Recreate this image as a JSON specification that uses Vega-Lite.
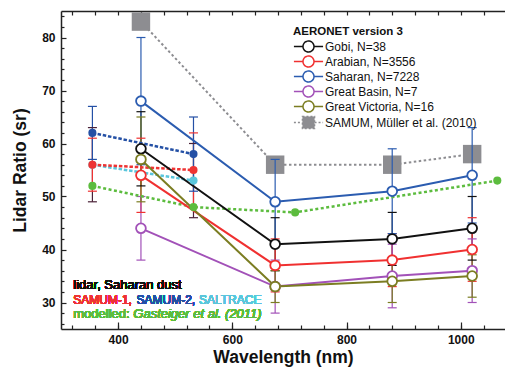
{
  "$schema": "https://vega.github.io/schema/vega-lite/v6.json",
  "width": 444,
  "height": 318,
  "autosize": {"type": "none"},
  "padding": {"left": 61, "top": 11, "right": 0, "bottom": 38},
  "config": {
    "view": {"stroke": null},
    "font": "Liberation Sans",
    "axis": {"grid": false, "tickColor": "#222", "domainColor": "#222", "domainWidth": 1.5, "tickWidth": 1.2, "labelColor": "#111", "titleColor": "#111", "labelFont": "Liberation Sans", "titleFont": "Liberation Sans"}
  },
  "datasets": {
    "d": [
      {"s": "Gobi, N=38", "g": "A", "wl": 440, "lr": 59, "lo": 52, "hi": 66},
      {"s": "Gobi, N=38", "g": "A", "wl": 675, "lr": 41, "lo": 36, "hi": 46},
      {"s": "Gobi, N=38", "g": "A", "wl": 880, "lr": 42, "lo": 37, "hi": 47},
      {"s": "Gobi, N=38", "g": "A", "wl": 1020, "lr": 44, "lo": 38, "hi": 50},
      {"s": "Arabian, N=3556", "g": "A", "wl": 440, "lr": 54, "lo": 47, "hi": 61},
      {"s": "Arabian, N=3556", "g": "A", "wl": 675, "lr": 37, "lo": 32, "hi": 42},
      {"s": "Arabian, N=3556", "g": "A", "wl": 880, "lr": 38, "lo": 33, "hi": 43},
      {"s": "Arabian, N=3556", "g": "A", "wl": 1020, "lr": 40, "lo": 34, "hi": 46},
      {"s": "Saharan, N=7228", "g": "A", "wl": 440, "lr": 68, "lo": 56, "hi": 80},
      {"s": "Saharan, N=7228", "g": "A", "wl": 675, "lr": 49, "lo": 41, "hi": 57},
      {"s": "Saharan, N=7228", "g": "A", "wl": 880, "lr": 51, "lo": 43, "hi": 59},
      {"s": "Saharan, N=7228", "g": "A", "wl": 1020, "lr": 54, "lo": 45, "hi": 63},
      {"s": "Great Basin, N=7", "g": "A", "wl": 440, "lr": 44, "lo": 38, "hi": 50},
      {"s": "Great Basin, N=7", "g": "A", "wl": 675, "lr": 33, "lo": 28, "hi": 38},
      {"s": "Great Basin, N=7", "g": "A", "wl": 880, "lr": 35, "lo": 29, "hi": 41},
      {"s": "Great Basin, N=7", "g": "A", "wl": 1020, "lr": 36, "lo": 30, "hi": 42},
      {"s": "Great Victoria, N=16", "g": "A", "wl": 440, "lr": 57, "lo": 49, "hi": 65},
      {"s": "Great Victoria, N=16", "g": "A", "wl": 675, "lr": 33, "lo": 30, "hi": 36},
      {"s": "Great Victoria, N=16", "g": "A", "wl": 880, "lr": 34, "lo": 30, "hi": 38},
      {"s": "Great Victoria, N=16", "g": "A", "wl": 1020, "lr": 35, "lo": 31, "hi": 39},
      {"s": "SAMUM, Müller et al. (2010)", "g": "M", "wl": 440, "lr": 83},
      {"s": "SAMUM, Müller et al. (2010)", "g": "M", "wl": 675, "lr": 56},
      {"s": "SAMUM, Müller et al. (2010)", "g": "M", "wl": 880, "lr": 56},
      {"s": "SAMUM, Müller et al. (2010)", "g": "M", "wl": 1020, "lr": 58},
      {"s": "SALTRACE", "g": "L", "wl": 355, "lr": 56, "lo": 49, "hi": 63},
      {"s": "SALTRACE", "g": "L", "wl": 532, "lr": 53, "lo": 46, "hi": 60},
      {"s": "SAMUM-1", "g": "L", "wl": 355, "lr": 56, "lo": 51, "hi": 61},
      {"s": "SAMUM-1", "g": "L", "wl": 532, "lr": 55, "lo": 48, "hi": 62},
      {"s": "SAMUM-2", "g": "L", "wl": 355, "lr": 62, "lo": 57, "hi": 67},
      {"s": "SAMUM-2", "g": "L", "wl": 532, "lr": 58, "lo": 51, "hi": 65},
      {"s": "Gasteiger et al. (2011)", "g": "G", "wl": 355, "lr": 52},
      {"s": "Gasteiger et al. (2011)", "g": "G", "wl": 532, "lr": 48},
      {"s": "Gasteiger et al. (2011)", "g": "G", "wl": 710, "lr": 47},
      {"s": "Gasteiger et al. (2011)", "g": "G", "wl": 1064, "lr": 53}
    ]
  },
  "data": {"name": "d"},
  "resolve": {"axis": {"x": "independent", "y": "independent"}, "legend": {"color": "independent", "stroke": "independent", "fill": "independent"}},
  "layer": [
    {
      "transform": [{"filter": "datum.g == 'M'"}],
      "mark": {"type": "line", "strokeWidth": 2, "strokeDash": [2.5, 2.5]},
      "encoding": {
        "x": {"field": "wl", "type": "quantitative", "scale": {"domain": [300, 1077.5], "nice": false, "zero": false},
          "axis": {"orient": "bottom", "values": [400, 600, 800, 1000], "format": "d", "tickSize": -7, "labelPadding": 12.5, "labelFontSize": 12, "labelFontWeight": "bold", "labelFlush": false, "title": "Wavelength (nm)", "titleFontSize": 17.5, "titleFontWeight": "bold", "titlePadding": 3}},
        "y": {"field": "lr", "type": "quantitative", "scale": {"domain": [25, 85], "nice": false, "zero": false},
          "axis": {"orient": "left", "values": [30, 40, 50, 60, 70, 80], "tickSize": -5, "labelPadding": 11, "labelFontSize": 12, "labelFontWeight": "bold", "labelFlush": false, "title": "Lidar Ratio (sr)", "titleFontSize": 17.5, "titleFontWeight": "bold", "titlePadding": 12}},
        "color": {"field": "s", "type": "nominal", "legend": null,
          "scale": {"domain": ["Gobi, N=38", "Arabian, N=3556", "Saharan, N=7228", "Great Basin, N=7", "Great Victoria, N=16", "SAMUM, Müller et al. (2010)", "SAMUM-1", "SAMUM-2", "SALTRACE", "Gasteiger et al. (2011)"],
            "range": ["#111111", "#f03030", "#2b5cb0", "#a251b8", "#7b7d22", "#8d8d91", "#ee3333", "#2450a5", "#5ac6dc", "#5cbc3e"]}}
      }
    },
    {
      "transform": [{"filter": "datum.g == 'M'"}],
      "mark": {"type": "point", "shape": "square", "filled": true, "size": 340, "opacity": 1},
      "encoding": {
        "x": {"field": "wl", "type": "quantitative", "scale": {"domain": [300, 1077.5], "nice": false, "zero": false},
          "axis": {"orient": "bottom", "values": [320, 360, 400, 440, 480, 520, 560, 600, 640, 680, 720, 760, 800, 840, 880, 920, 960, 1000, 1040], "tickSize": -4, "labels": false, "domain": false, "title": null}},
        "y": {"field": "lr", "type": "quantitative", "scale": {"domain": [25, 85], "nice": false, "zero": false},
          "axis": {"orient": "left", "values": [26, 28, 32, 34, 36, 38, 42, 44, 46, 48, 52, 54, 56, 58, 62, 64, 66, 68, 72, 74, 76, 78, 82, 84], "tickSize": -3, "labels": false, "domain": false, "title": null}},
        "color": {"field": "s", "type": "nominal", "legend": null}
      }
    },
    {
      "transform": [{"filter": "isValid(datum.lo)"}],
      "mark": {"type": "rule", "strokeWidth": 1.2},
      "encoding": {
        "x": {"field": "wl", "type": "quantitative", "scale": {"domain": [300, 1077.5], "nice": false, "zero": false},
          "axis": {"orient": "top", "values": [320, 360, 400, 440, 480, 520, 560, 600, 640, 680, 720, 760, 800, 840, 880, 920, 960, 1000, 1040], "tickSize": -4, "labels": false, "title": null}},
        "y": {"field": "lo", "type": "quantitative", "scale": {"domain": [25, 85], "nice": false, "zero": false}, "axis": null},
        "y2": {"field": "hi"},
        "stroke": {"field": "s", "type": "nominal", "legend": null,
          "scale": {"domain": ["Gobi, N=38", "Arabian, N=3556", "Saharan, N=7228", "Great Basin, N=7", "Great Victoria, N=16", "SAMUM-1", "SAMUM-2", "SALTRACE"],
            "range": ["#111111", "#f03030", "#2b5cb0", "#a251b8", "#7b7d22", "#ee3333", "#2450a5", "#4a2238"]}}
      }
    },
    {
      "transform": [{"filter": "isValid(datum.lo)"}, {"fold": ["lo", "hi"], "as": ["end", "val"]}],
      "mark": {"type": "tick", "orient": "horizontal", "size": 9, "thickness": 1.2, "opacity": 1},
      "encoding": {
        "x": {"field": "wl", "type": "quantitative", "scale": {"domain": [300, 1077.5], "nice": false, "zero": false}, "axis": null},
        "y": {"field": "val", "type": "quantitative", "scale": {"domain": [25, 85], "nice": false, "zero": false}, "axis": null},
        "fill": {"field": "s", "type": "nominal", "legend": null,
          "scale": {"domain": ["Gobi, N=38", "Arabian, N=3556", "Saharan, N=7228", "Great Basin, N=7", "Great Victoria, N=16", "SAMUM-1", "SAMUM-2", "SALTRACE"],
            "range": ["#111111", "#f03030", "#2b5cb0", "#a251b8", "#7b7d22", "#ee3333", "#2450a5", "#4a2238"]}}
      }
    },
    {
      "transform": [{"filter": "datum.g == 'L'"}],
      "mark": {"type": "line", "strokeWidth": 2.5, "strokeDash": [3.5, 1.8]},
      "encoding": {
        "x": {"field": "wl", "type": "quantitative", "scale": {"domain": [300, 1077.5], "nice": false, "zero": false}, "axis": null},
        "y": {"field": "lr", "type": "quantitative", "scale": {"domain": [25, 85], "nice": false, "zero": false}, "axis": null},
        "color": {"field": "s", "type": "nominal", "legend": null}
      }
    },
    {
      "transform": [{"filter": "datum.g == 'G'"}],
      "mark": {"type": "line", "strokeWidth": 2.5, "strokeDash": [3, 2.5]},
      "encoding": {
        "x": {"field": "wl", "type": "quantitative", "scale": {"domain": [300, 1077.5], "nice": false, "zero": false}, "axis": null},
        "y": {"field": "lr", "type": "quantitative", "scale": {"domain": [25, 85], "nice": false, "zero": false}, "axis": null},
        "color": {"field": "s", "type": "nominal", "legend": null}
      }
    },
    {
      "transform": [{"filter": "datum.g == 'A'"}],
      "mark": {"type": "line", "strokeWidth": 2},
      "encoding": {
        "x": {"field": "wl", "type": "quantitative", "scale": {"domain": [300, 1077.5], "nice": false, "zero": false}, "axis": null},
        "y": {"field": "lr", "type": "quantitative", "scale": {"domain": [25, 85], "nice": false, "zero": false}, "axis": null},
        "color": {"field": "s", "type": "nominal",
          "legend": {
            "values": ["Gobi, N=38", "Arabian, N=3556", "Saharan, N=7228", "Great Basin, N=7", "Great Victoria, N=16", "SAMUM, Müller et al. (2010)"],
            "orient": "none", "legendX": 232, "legendY": 15, "padding": 0,
            "title": "AERONET version 3", "titleFontSize": 11.5, "titleFontWeight": "bold", "titleColor": "#111", "titlePadding": 2.5, "titleFont": "Liberation Sans",
            "labelFontSize": 12, "labelColor": "#111", "labelFont": "Liberation Sans", "labelOffset": 10, "labelLimit": 300,
            "symbolSize": 121, "symbolStrokeWidth": 1.5, "symbolOffset": 9, "rowPadding": -2,
            "encode": {
              "symbols": {
                "update": {
                  "shape": {"signal": "datum.value === 'SAMUM, Müller et al. (2010)' ? 'M-2.65,0L-1.1,0M1.1,0L2.65,0M-1.1,-1.1L1.1,-1.1L1.1,1.1L-1.1,1.1Z' : 'M-2.65,0L-1,0M1,0L2.65,0M-1,0A1,1,0,1,0,1,0A1,1,0,1,0,-1,0Z'"},
                  "fill": {"signal": "datum.value === 'SAMUM, Müller et al. (2010)' ? '#8d8d91' : '#ffffff'"},
                  "strokeDash": {"signal": "datum.value === 'SAMUM, Müller et al. (2010)' ? [2, 2] : [1, 0]"},
                  "opacity": {"value": 1}
                }
              }
            }
          }
        }
      }
    },
    {
      "transform": [{"filter": "datum.g == 'A'"}],
      "mark": {"type": "point", "filled": false, "fill": "#ffffff", "size": 95, "strokeWidth": 1.8, "opacity": 1},
      "encoding": {
        "x": {"field": "wl", "type": "quantitative", "scale": {"domain": [300, 1077.5], "nice": false, "zero": false}, "axis": null},
        "y": {"field": "lr", "type": "quantitative", "scale": {"domain": [25, 85], "nice": false, "zero": false}, "axis": null},
        "color": {"field": "s", "type": "nominal", "legend": null}
      }
    },
    {
      "transform": [{"filter": "datum.g == 'L' || datum.g == 'G'"}],
      "mark": {"type": "circle", "size": 66, "opacity": 1},
      "encoding": {
        "x": {"field": "wl", "type": "quantitative", "scale": {"domain": [300, 1077.5], "nice": false, "zero": false}, "axis": null},
        "y": {"field": "lr", "type": "quantitative", "scale": {"domain": [25, 85], "nice": false, "zero": false}, "axis": null},
        "color": {"field": "s", "type": "nominal", "legend": null}
      }
    },
    {
      "mark": {"type": "text", "text": "lidar, Saharan dust", "align": "left", "baseline": "middle", "fontSize": 13, "color": "#111111", "font": "Liberation Sans"},
      "encoding": {
        "x": {"datum": 321.5, "type": "quantitative", "scale": {"domain": [300, 1077.5], "nice": false, "zero": false}, "axis": null},
        "y": {"datum": 33.3, "type": "quantitative", "scale": {"domain": [25, 85], "nice": false, "zero": false}, "axis": null}
      }
    },
    {
      "mark": {"type": "text", "text": "SAMUM-1,", "align": "left", "baseline": "middle", "fontSize": 12, "color": "#ee3333", "font": "Liberation Sans"},
      "encoding": {
        "x": {"datum": 321.5, "type": "quantitative", "scale": {"domain": [300, 1077.5], "nice": false, "zero": false}, "axis": null},
        "y": {"datum": 30.47, "type": "quantitative", "scale": {"domain": [25, 85], "nice": false, "zero": false}, "axis": null}
      }
    },
    {
      "mark": {"type": "text", "text": "SAMUM-2,", "align": "left", "baseline": "middle", "fontSize": 12, "color": "#2450a5", "font": "Liberation Sans"},
      "encoding": {
        "x": {"datum": 432.2, "type": "quantitative", "scale": {"domain": [300, 1077.5], "nice": false, "zero": false}, "axis": null},
        "y": {"datum": 30.47, "type": "quantitative", "scale": {"domain": [25, 85], "nice": false, "zero": false}, "axis": null}
      }
    },
    {
      "mark": {"type": "text", "text": "SALTRACE", "align": "left", "baseline": "middle", "fontSize": 12, "color": "#5ac6dc", "font": "Liberation Sans"},
      "encoding": {
        "x": {"datum": 541.6, "type": "quantitative", "scale": {"domain": [300, 1077.5], "nice": false, "zero": false}, "axis": null},
        "y": {"datum": 30.47, "type": "quantitative", "scale": {"domain": [25, 85], "nice": false, "zero": false}, "axis": null}
      }
    },
    {
      "mark": {"type": "text", "text": "modelled:", "align": "left", "baseline": "middle", "fontSize": 13, "color": "#5cbc3e", "font": "Liberation Sans"},
      "encoding": {
        "x": {"datum": 321.5, "type": "quantitative", "scale": {"domain": [300, 1077.5], "nice": false, "zero": false}, "axis": null},
        "y": {"datum": 27.8, "type": "quantitative", "scale": {"domain": [25, 85], "nice": false, "zero": false}, "axis": null}
      }
    },
    {
      "mark": {"type": "text", "text": "Gasteiger et al. (2011)", "align": "left", "baseline": "middle", "fontSize": 13, "fontStyle": "italic", "color": "#5cbc3e", "font": "Liberation Sans"},
      "encoding": {
        "x": {"datum": 426.6, "type": "quantitative", "scale": {"domain": [300, 1077.5], "nice": false, "zero": false}, "axis": null},
        "y": {"datum": 27.8, "type": "quantitative", "scale": {"domain": [25, 85], "nice": false, "zero": false}, "axis": null}
      }
    }
  ]
}
